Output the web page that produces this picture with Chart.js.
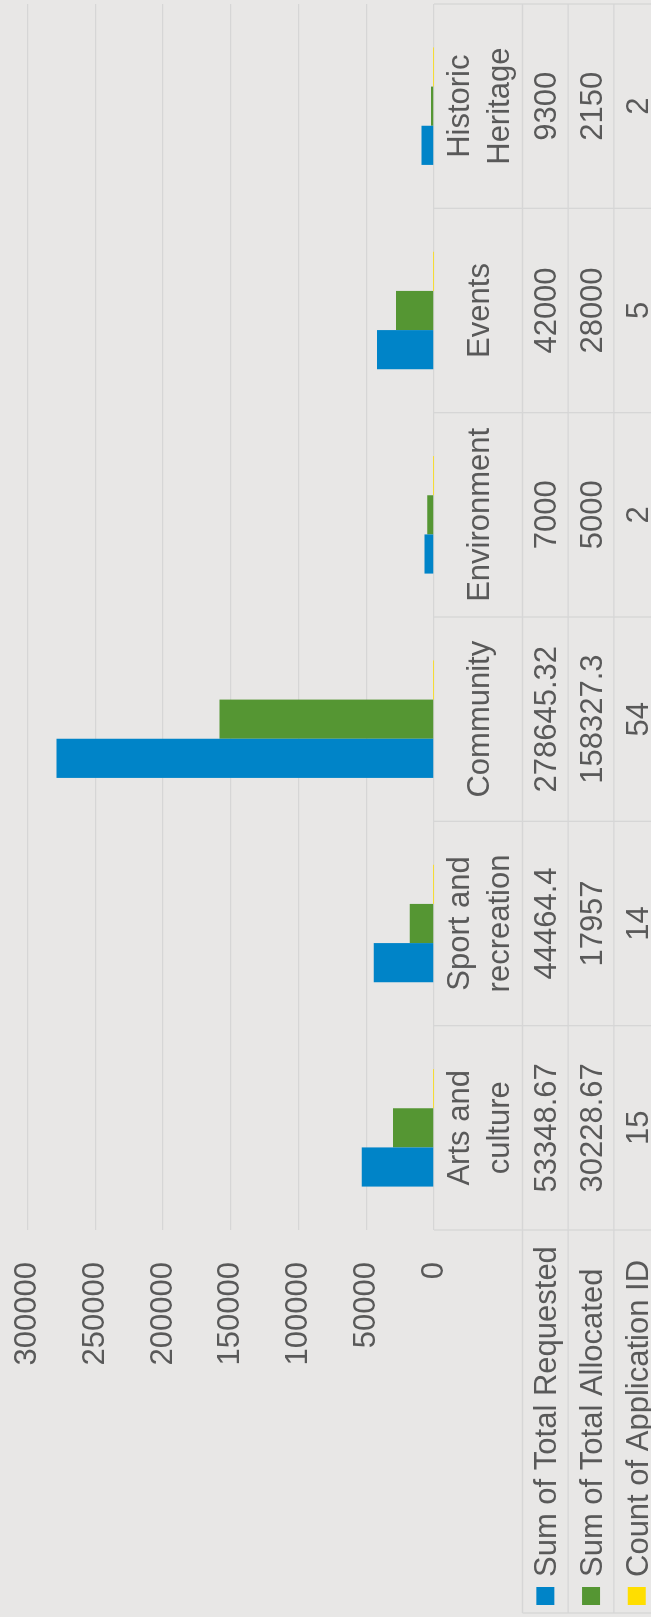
<!DOCTYPE html>
<html>
<head>
<meta charset="utf-8">
<title>Grants by category</title>
<script src="https://cdn.jsdelivr.net/npm/chart.js@4.4.0/dist/chart.umd.min.js"></script>
<style>
  html, body { margin: 0; padding: 0; background: #e8e7e6; overflow: hidden; }
  /* chart is laid out landscape, then turned a quarter turn to fit the portrait page */
  #frame {
    position: absolute; left: 0; top: 0;
    width: 1617px; height: 651px;
    transform-origin: 0 0;
    transform: translate(0, 1617px) rotate(-90deg);
  }
</style>
</head>
<body>
<div id="frame"><canvas id="grantChart"></canvas></div>
<script>
const CATEGORIES = [
  ['Arts and', 'culture'],
  ['Sport and', 'recreation'],
  ['Community'],
  ['Environment'],
  ['Events'],
  ['Historic', 'Heritage']
];
const TOTAL_REQUESTED = [53348.67, 44464.4, 278645.32, 7000, 42000, 9300];
const TOTAL_ALLOCATED = [30228.67, 17957, 158327.3, 5000, 28000, 2150];
const APPLICATION_COUNT = [15, 14, 54, 2, 5, 2];
const SERIES_NAMES = ['Sum of Total Requested', 'Sum of Total Allocated', 'Count of Application ID'];
const VALUE_MIN = 0;
const VALUE_MAX = 300000;
const VALUE_STEP = 50000;

const TEXT = '#595959';
const LINE = '#d6d6d6';
const FONT_SIZE = 31;
const FONT_FAMILY = '"Liberation Sans", Arial, Helvetica, sans-serif';
const HEADER_H = 88.5;
const ROW_H = 45.7;
const LABEL_GAP = 40;

const dataTable = {
  id: 'dataTable',
  afterDraw(chart) {
    const { ctx, chartArea: area } = chart;
    const xs = chart.scales.x;
    const n = CATEGORIES.length;
    const colW = (area.right - area.left) / n;
    const bottom = chart.height;
    const rowTops = [0, 1, 2].map(r => area.bottom + HEADER_H + r * ROW_H);

    const line = (x1, y1, x2, y2) => {
      ctx.beginPath();
      ctx.moveTo(x1, y1);
      ctx.lineTo(x2, y2);
      ctx.stroke();
    };

    ctx.save();
    ctx.strokeStyle = LINE;
    ctx.lineWidth = 1.3;
    for (let i = 0; i <= n; i++) {
      const x = area.left + i * colW;
      line(x, area.bottom, x, bottom);
    }
    rowTops.forEach(y => line(4, y, area.right, y));
    line(4, rowTops[0], 4, bottom);

    ctx.font = `${FONT_SIZE}px ${FONT_FAMILY}`;
    ctx.fillStyle = TEXT;
    ctx.textBaseline = 'alphabetic';
    const capMid = FONT_SIZE * 0.358;

    // category header
    ctx.textAlign = 'center';
    CATEGORIES.forEach((lines, i) => {
      const cx = xs.getPixelForValue(i);
      const cy = area.bottom + HEADER_H / 2;
      lines.forEach((t, j) => {
        ctx.fillText(t, cx, cy + capMid + (j - (lines.length - 1) / 2) * LABEL_GAP);
      });
    });

    // series rows with legend keys
    chart.data.datasets.forEach((ds, r) => {
      const cy = rowTops[r] + ROW_H / 2;
      ctx.textAlign = 'center';
      ctx.fillStyle = TEXT;
      ds.data.forEach((v, i) => ctx.fillText(String(v), xs.getPixelForValue(i), cy + capMid));
      ctx.fillStyle = ds.backgroundColor;
      ctx.fillRect(12, cy - 9, 18, 18);
      ctx.fillStyle = TEXT;
      ctx.textAlign = 'left';
      ctx.fillText(ds.label, 40, cy + capMid);
    });
    ctx.restore();
  }
};

new Chart(document.getElementById('grantChart'), {
  type: 'bar',
  data: {
    labels: CATEGORIES.map(c => c.join(' ')),
    datasets: [
      { label: SERIES_NAMES[0], data: TOTAL_REQUESTED, backgroundColor: '#0084c8' },
      { label: SERIES_NAMES[1], data: TOTAL_ALLOCATED, backgroundColor: '#559633' },
      { label: SERIES_NAMES[2], data: APPLICATION_COUNT, backgroundColor: '#ffde00' }
    ]
  },
  options: {
    responsive: true,
    maintainAspectRatio: false,
    animation: false,
    datasets: {
      bar: { categoryPercentage: 0.575, barPercentage: 1, inflateAmount: 0 }
    },
    layout: {
      padding: { left: 0, right: 4, top: 27.5, bottom: 217 }
    },
    plugins: {
      legend: { display: false },
      tooltip: { enabled: false }
    },
    scales: {
      x: { display: false },
      y: {
        min: VALUE_MIN,
        max: VALUE_MAX,
        border: { display: false },
        grid: { color: LINE, lineWidth: 1.3, drawTicks: false },
        ticks: {
          stepSize: VALUE_STEP,
          padding: 32,
          color: TEXT,
          font: { size: FONT_SIZE, family: FONT_FAMILY },
          callback: v => String(v)
        },
        afterFit(scale) {
          scale.width = 387;
          scale.paddingTop = 0;
          scale.paddingBottom = 0;
        }
      }
    }
  },
  plugins: [dataTable]
});
</script>
</body>
</html>
